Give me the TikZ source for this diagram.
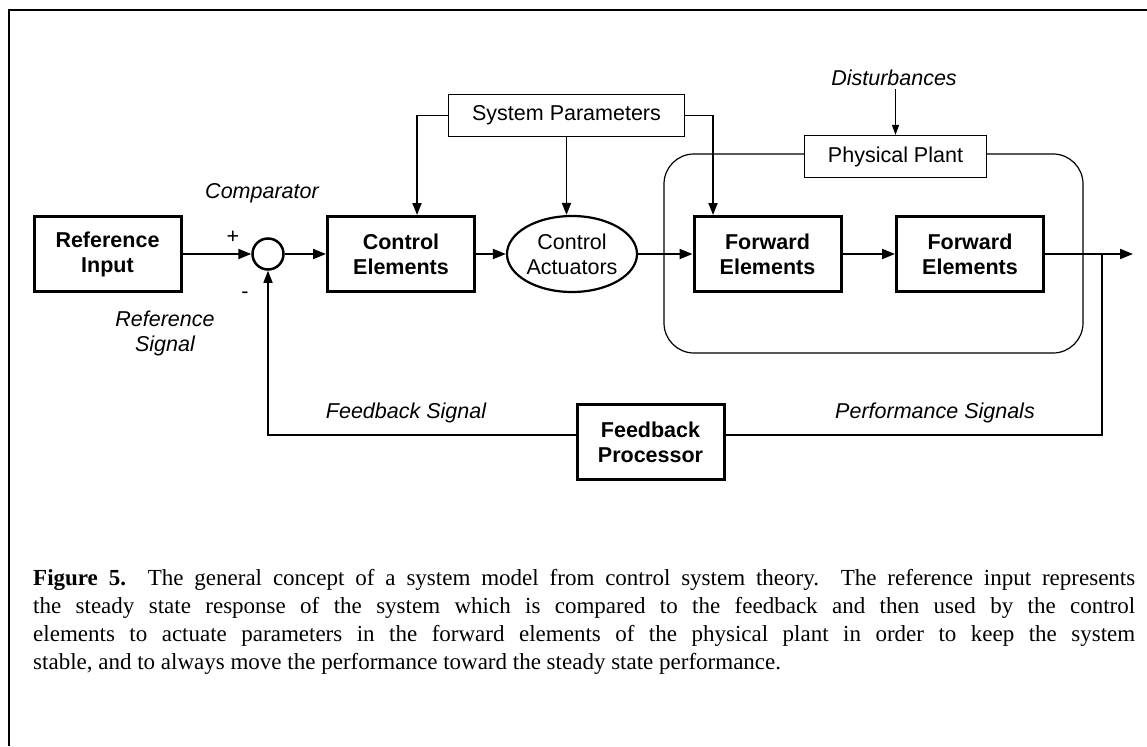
\documentclass[tikz,border=0pt]{standalone}
\usepackage{fontspec}
\setmainfont{Liberation Serif}
\setsansfont{Liberation Sans}
\usetikzlibrary{arrows.meta,shapes.geometric}

\begin{document}
\begin{tikzpicture}[x=1pt,y=-1pt,
	font=\sffamily\fontsize{21.5}{25}\selectfont,
	block/.style={draw, line width=3pt, minimum width=147pt, minimum height=75pt, inner sep=0pt, align=center, font=\sffamily\bfseries\fontsize{21.5}{25}\selectfont},
	tagbox/.style={draw, line width=1.2pt, minimum height=42pt, inner sep=0pt, fill=white},
	sidenote/.style={align=center, font=\sffamily\itshape\fontsize{21.5}{25}\selectfont},
	sig/.style={line width=2pt, -{Triangle[length=13pt,width=10pt]}},
	parline/.style={line width=1.8pt, -{Triangle[length=12pt,width=9pt]}},
	fbline/.style={line width=1.4pt},
	thinsig/.style={line width=1.4pt, -{Triangle[length=10pt,width=7pt]}}]
	\useasboundingbox (0,0) rectangle (1147,746);
	\draw[line width=1.6pt] (1147,10) -- (9,10) -- (9,746);
	\draw[line width=1.2pt, rounded corners=30pt] (664,154) rectangle (1083,353);
	\node[block] (refin) at (107.5,254) {Reference\\Input};
	\node[draw, circle, line width=2.5pt, minimum size=31pt, inner sep=0pt] (comp) at (268,254) {};
	\node[block] (ctrl) at (401,254) {Control\\Elements};
	\node[draw, ellipse, line width=2.2pt, minimum width=130pt, minimum height=76pt, inner sep=0pt, align=center] (act) at (572,254) {Control\\Actuators};
	\node[block] (fwd1) at (767.5,254) {Forward\\Elements};
	\node[block] (fwd2) at (970,254) {Forward\\Elements};
	\node[block] (fbproc) at (650.5,442) {Feedback\\Processor};
	\node[tagbox, minimum width=236pt] (sysp) at (566.5,115.5) {System Parameters};
	\node[tagbox, minimum width=182pt] (plantlbl) at (895.5,156.5) {Physical Plant};
	\node[sidenote] (dist) at (894,78) {Disturbances};
	\node[sidenote] (cmpr) at (262,193) {Comparator};
	\node (plus) at (233,237) {+};
	\node (minus) at (245,295) {-};
	\node[sidenote] (refsig) at (165,333) {Reference\\Signal};
	\node[sidenote] (fbsig) at (406,413) {Feedback Signal};
	\node[sidenote] (perfsig) at (935,413) {Performance Signals};
	\coordinate (tap) at (1102,254);
	\coordinate (out) at (1133,254);
	\draw[sig] (refin) -- (comp);
	\draw[sig] (comp) -- (ctrl);
	\draw[sig] (ctrl) -- (act);
	\draw[sig] (act) -- (fwd1);
	\draw[sig] (fwd1) -- (fwd2);
	\draw[sig] (fwd2) -- (out);
	\draw[fbline] (tap) |- ([yshift=7pt]fbproc.east);
	\draw[fbline, -{Triangle[length=12pt,width=9pt]}] ([yshift=7pt]fbproc.west) -| (comp);
	\draw[parline] (sysp.west) -| ([xshift=16pt]ctrl.north);
	\draw[parline] (sysp.south) -- (sysp.south |- act.north);
	\draw[parline] (sysp.east) -| ([xshift=-54.5pt]fwd1.north);
	\draw[thinsig] (plantlbl.north |- dist.south) -- (plantlbl.north);
	\node[anchor=north west, text width=1102pt, inner sep=0pt, align=justify, font=\rmfamily\fontsize{23}{28}\selectfont] (capt) at (33,569) {\textbf{Figure 5.}\ \ The general concept of a system model from control system theory.\ \ The reference input represents\linebreak the steady state response of the system which is compared to the feedback and then used by the control\linebreak elements to actuate parameters in the forward elements of the physical plant in order to keep the system\linebreak stable, and to always move the performance toward the steady state performance.};
\end{tikzpicture}
\end{document}
